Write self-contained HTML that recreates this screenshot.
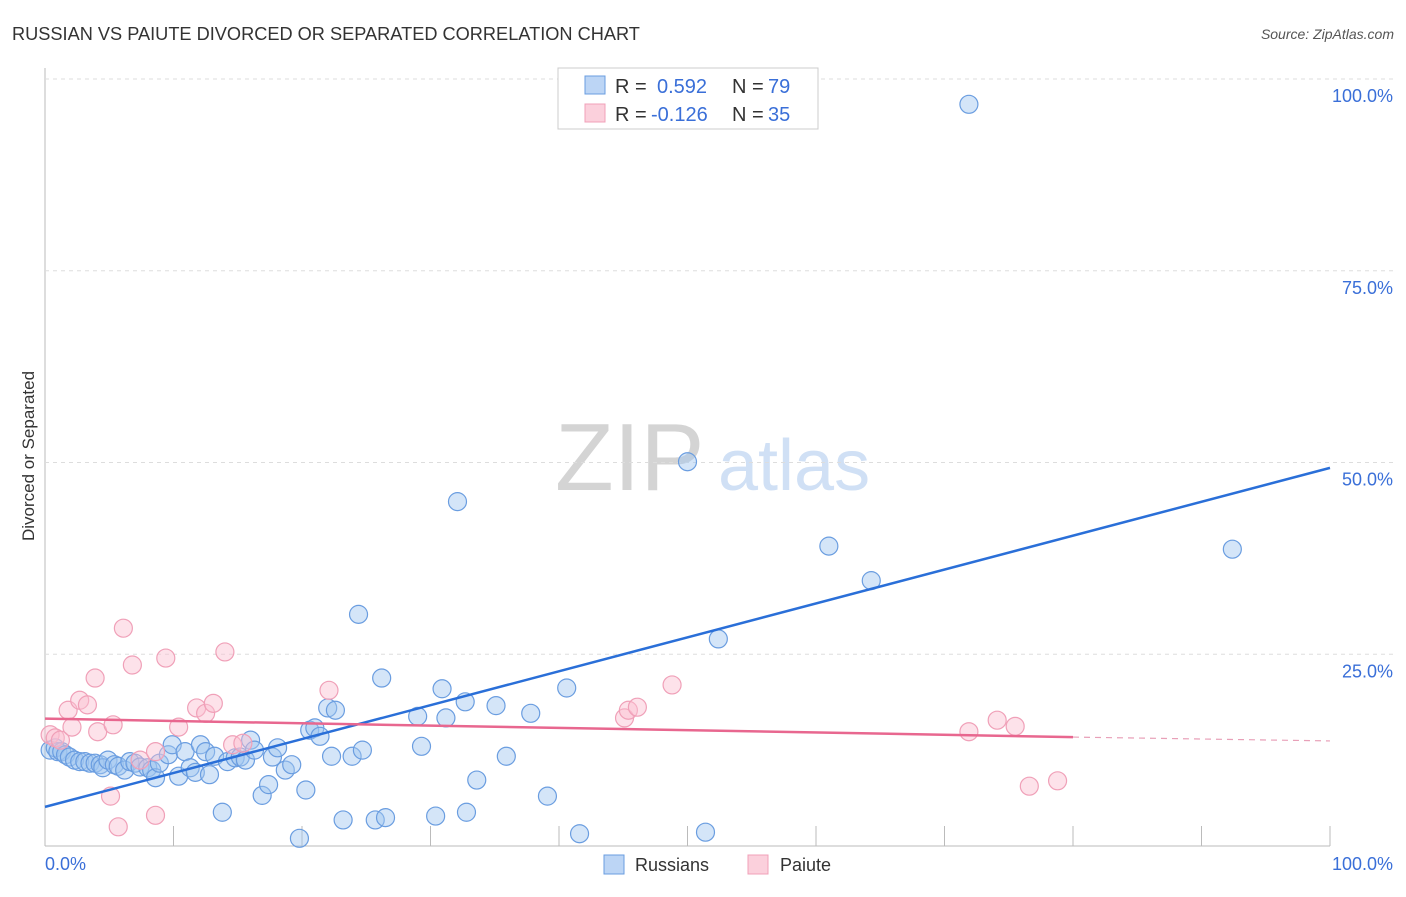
<!DOCTYPE html>
<html><head><meta charset="utf-8"><style>
body{margin:0;background:#fff;font-family:"Liberation Sans",sans-serif;}
svg text{font-family:"Liberation Sans",sans-serif;}
</style></head><body>
<svg id="c" width="1406" height="892" xmlns="http://www.w3.org/2000/svg">
<text x="12" y="40" font-size="18.2" fill="#333">RUSSIAN VS PAIUTE DIVORCED OR SEPARATED CORRELATION CHART</text>
<text x="1394" y="39" font-size="14" fill="#555" font-style="italic" text-anchor="end">Source: ZipAtlas.com</text>
<text x="34" y="456" font-size="17" fill="#333" text-anchor="middle" transform="rotate(-90 34 456)">Divorced or Separated</text>
<text x="555" y="490" font-size="96" fill="#d4d4d4" font-family="Liberation Serif">ZIP</text>
<text x="718" y="490" font-size="72" fill="#d0e0f5">atlas</text>
<g id="grid"></g><g id="pts"></g><g id="lines"></g>
<g>
<rect x="558" y="68" width="260" height="61" fill="#fff" stroke="#ccc"/>
<rect x="585" y="76" width="20" height="18" fill="#bcd5f5" stroke="#6a9de0"/>
<text x="615" y="93" font-size="20" fill="#333">R = </text><text x="657" y="93" font-size="20" fill="#3a6fd8">0.592</text>
<text x="732" y="93" font-size="20" fill="#333">N = </text><text x="768" y="93" font-size="20" fill="#3a6fd8">79</text>
<rect x="585" y="104" width="20" height="18" fill="#fbd0dc" stroke="#f0a0b8"/>
<text x="615" y="121" font-size="20" fill="#333">R = </text><text x="651" y="121" font-size="20" fill="#3a6fd8">-0.126</text>
<text x="732" y="121" font-size="20" fill="#333">N = </text><text x="768" y="121" font-size="20" fill="#3a6fd8">35</text>
</g>
<g>
<rect x="604" y="855" width="20" height="19" fill="#bcd5f5" stroke="#6a9de0"/>
<text x="635" y="871" font-size="18" fill="#333">Russians</text>
<rect x="748" y="855" width="20" height="19" fill="#fbd0dc" stroke="#f0a0b8"/>
<text x="780" y="871" font-size="18" fill="#333">Paiute</text>
</g>
</svg>
<script>
const xTicks=[0,10,20,30,40,50,60,70,80,90,100];
const yTicks=[25,50,75,100];
const yTickLabels=["25.0%","50.0%","75.0%","100.0%"];
const xAxisLabels=["0.0%","100.0%"];
const russiansX=[0.4,0.8,1.0,1.3,1.6,1.9,2.3,2.7,3.1,3.5,3.9,4.3,4.5,4.9,5.4,5.7,6.2,6.6,7.0,7.4,8.0,8.3,8.6,8.9,9.6,9.9,10.4,10.9,11.3,11.7,12.1,12.5,12.8,13.2,13.8,14.2,14.8,15.2,15.6,16.0,16.3,16.9,17.4,17.7,18.1,18.7,19.2,19.8,20.3,20.6,21.0,21.4,22.0,22.6,22.3,23.2,23.9,24.4,24.7,25.7,26.2,26.5,29.0,29.3,30.4,30.9,31.2,32.1,32.7,32.8,33.6,35.1,35.9,37.8,39.1,40.6,41.6,50.0,51.4,52.4,61.0,64.3,71.9,92.4];
const russiansY=[12.5,12.8,12.3,12.3,11.9,11.6,11.2,11.0,11.0,10.8,10.8,10.6,10.2,11.2,10.6,10.4,9.9,11.0,10.8,10.3,10.2,9.9,8.9,10.8,11.9,13.2,9.1,12.3,10.2,9.6,13.2,12.3,9.3,11.7,4.4,11.0,11.5,11.6,11.2,13.8,12.5,6.6,8.0,11.6,12.8,9.9,10.6,1.0,7.3,15.1,15.4,14.3,18.0,17.7,11.7,3.4,11.7,30.2,12.5,3.4,21.9,3.7,16.9,13.0,3.9,20.5,16.7,44.9,18.8,4.4,8.6,18.3,11.7,17.3,6.5,20.6,1.6,50.1,1.8,27.0,39.1,34.6,96.7,38.7];
const paiuteX=[0.4,0.8,1.2,1.8,2.1,2.7,3.3,3.9,4.1,5.1,5.3,5.7,6.1,6.8,7.4,8.6,8.6,9.4,10.4,11.8,12.5,13.1,14.0,14.6,15.4,22.1,45.1,45.4,46.1,48.8,71.9,74.1,75.5,76.6,78.8];
const paiuteY=[14.5,14.1,13.8,17.7,15.5,19.0,18.4,21.9,14.9,6.5,15.8,2.5,28.4,23.6,11.2,12.3,4.0,24.5,15.5,18.0,17.3,18.6,25.3,13.2,13.4,20.3,16.7,17.7,18.1,21.0,14.9,16.4,15.6,7.8,8.5];
const russiansTrend=[5.1,49.3];
const paiuteTrend=[16.6,14.2,13.7];
const NS='http://www.w3.org/2000/svg';
const X=v=>45+v*12.85, Y=v=>846-v*7.67;
function mk(t,a,p){const e=document.createElementNS(NS,t);for(const k in a)e.setAttribute(k,a[k]);p.appendChild(e);return e;}
const g=document.getElementById('grid');
const ax=mk('line',{x1:45,y1:68,x2:45,y2:846,stroke:'#bbb'},g);


const bx=mk('line',{x1:45,y1:846,x2:1330,y2:846,stroke:'#bbb'},g);


yTicks.forEach((v,i)=>{
 const l=mk('line',{x1:45,y1:Y(v),x2:1395,y2:Y(v),stroke:'#ddd','stroke-dasharray':'4,4'},g);
 
 
 const t=mk('text',{x:1393,y:Y(v)+23,'font-size':18,fill:'#3a6fd8','text-anchor':'end'},g);
 t.textContent=yTickLabels[i];
 
 
});
xTicks.slice(1).forEach(v=>{
 const l=mk('line',{x1:X(v),y1:826,x2:X(v),y2:846,stroke:'#bbb'},g);
 
 
});
[[0,'start',45],[100,'end',1393]].forEach((d,i)=>{
 const t=mk('text',{x:d[2],y:870,'font-size':18,fill:'#3a6fd8','text-anchor':d[1]},g);
 t.textContent=xAxisLabels[i];
 
 
});
const p=document.getElementById('pts');
russiansX.forEach((v,i)=>{
 const c=mk('circle',{cx:X(v),cy:Y(russiansY[i]),r:9,fill:'rgba(160,197,240,0.45)',stroke:'#6a9de0','stroke-width':1.2},p);
 
 
});
paiuteX.forEach((v,i)=>{
 const c=mk('circle',{cx:X(v),cy:Y(paiuteY[i]),r:9,fill:'rgba(250,190,208,0.45)',stroke:'#f0a0b8','stroke-width':1.2},p);
 
 
});
const L=document.getElementById('lines');
const b=mk('line',{x1:X(0),y1:Y(russiansTrend[0]),x2:X(100),y2:Y(russiansTrend[1]),stroke:'#2a6fd8','stroke-width':2.5},L);


const pk=mk('line',{x1:X(0),y1:Y(paiuteTrend[0]),x2:X(80),y2:Y(paiuteTrend[1]),stroke:'#e8678f','stroke-width':2.5},L);


const pd=mk('line',{x1:X(80),y1:Y(paiuteTrend[1]),x2:X(100),y2:Y(paiuteTrend[2]),stroke:'#e8a0b8','stroke-width':1.2,'stroke-dasharray':'6,5'},L);


</script>
</body></html>
